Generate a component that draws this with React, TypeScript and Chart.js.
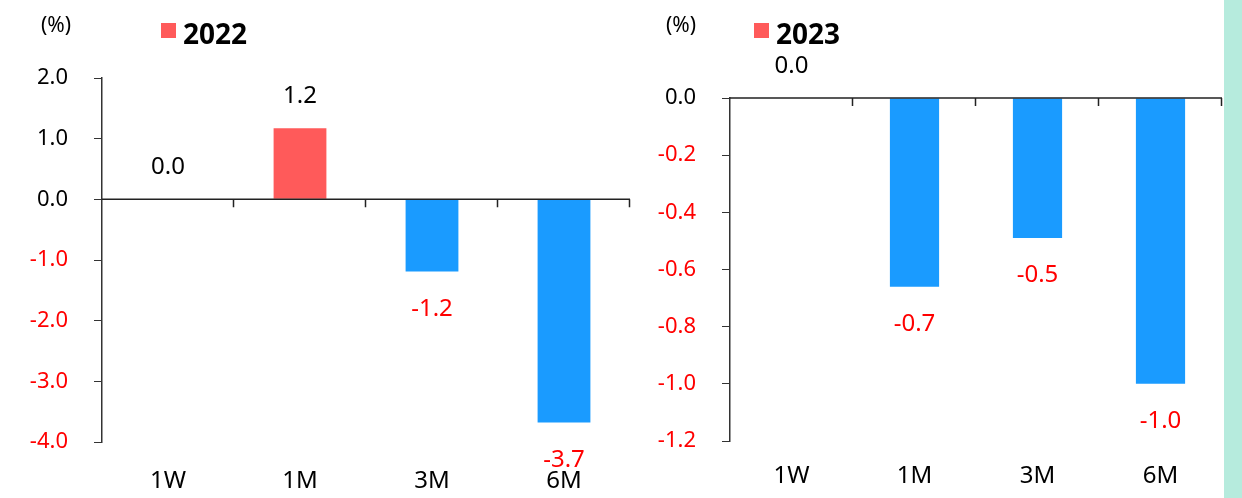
import React, { useEffect, useRef } from "react";
import { Chart, registerables } from "chart.js";

Chart.register(...registerables);

const categories = ["1W", "1M", "3M", "6M"];
const values2022 = [0.0, 1.17, -1.19, -3.68];
const values2023 = [0.0, -0.66, -0.49, -1.0];
const legend2022 = "2022";
const legend2023 = "2023";
const unitLabel = "(%)";

const RED_BAR = "#FF5A5A";
const BLUE_BAR = "#1A9BFF";
const RED_TEXT = "#FF0000";
const FONT = "'Noto Sans', 'DejaVu Sans', sans-serif";

type PanelProps = {
  values: number[];
  legend: string;
  yMin: number;
  yMax: number;
  step: number;
  width: number;
  height: number;
  left: number;
  pad: { left: number; right: number; top: number; bottom: number };
  xPadding: number;
  unitX: number;
  legendX: number;
};

function Panel(p: PanelProps) {
  const ref = useRef<HTMLCanvasElement | null>(null);
  useEffect(() => {
    if (!ref.current) return;
    const overlay = {
      id: "overlay",
      afterDatasetsDraw(chart: any) {
        const ctx = chart.ctx;
        const area = chart.chartArea;
        const yScale = chart.scales.y;
        const y0 = yScale.getPixelForValue(0);
        ctx.save();
        // zero axis line with category ticks
        ctx.strokeStyle = "#222";
        ctx.lineWidth = 1.5;
        ctx.beginPath();
        ctx.moveTo(area.left, y0);
        ctx.lineTo(area.right, y0);
        const n = categories.length;
        const w = (area.right - area.left) / n;
        for (let i = 1; i <= n; i++) {
          const x = Math.round(area.left + w * i) - 0.5;
          ctx.moveTo(x, y0);
          ctx.lineTo(x, y0 + 8);
        }
        ctx.stroke();
        // data labels
        const meta = chart.getDatasetMeta(0);
        ctx.font = `24px ${FONT}`;
        ctx.textAlign = "center";
        ctx.textBaseline = "middle";
        meta.data.forEach((bar: any, i: number) => {
          const v = p.values[i];
          if (v < 0) {
            ctx.fillStyle = RED_TEXT;
            ctx.fillText(v.toFixed(1), bar.x, bar.y + 37.5);
          } else {
            ctx.fillStyle = "#000";
            ctx.fillText(v.toFixed(1), bar.x, bar.y - 32);
          }
        });
        // unit
        ctx.fillStyle = "#000";
        ctx.font = `21px ${FONT}`;
        ctx.textAlign = "center";
        ctx.fillText(unitLabel, p.unitX, 26);
        // legend
        ctx.fillStyle = RED_BAR;
        ctx.fillRect(p.legendX, 23, 15, 15);
        ctx.fillStyle = "#000";
        ctx.font = `bold 28px ${FONT}`;
        ctx.textAlign = "left";
        ctx.fillText(p.legend, p.legendX + 22, 36);
        ctx.restore();
      },
    };
    const chart = new Chart(ref.current, {
      type: "bar",
      data: {
        labels: categories,
        datasets: [
          {
            data: p.values,
            backgroundColor: p.values.map((v) => (v >= 0 ? RED_BAR : BLUE_BAR)),
            borderWidth: 0,
            barPercentage: 0.4,
            categoryPercentage: 1,
          },
        ],
      },
      options: {
        responsive: false,
        animation: false,
        devicePixelRatio: 1,
        layout: { padding: { left: 0, right: p.pad.right, top: p.pad.top, bottom: 0 } },
        plugins: { legend: { display: false }, tooltip: { enabled: false } },
        scales: {
          x: {
            grid: { display: false, drawTicks: false },
            border: { display: false },
            ticks: { color: "#000", font: { size: 24, family: FONT }, padding: p.xPadding },
            afterFit: (s: any) => {
              s.height = p.pad.bottom;
            },
          },
          y: {
            min: p.yMin,
            max: p.yMax,
            grid: { drawOnChartArea: false, drawTicks: true, tickLength: 8, color: "#333" },
            border: { display: true, color: "#333", width: 1.5 },
            ticks: {
              stepSize: p.step,
              padding: 26,
              font: { size: 22, family: FONT },
              color: (c: any) => (c.tick && c.tick.value < -1e-9 ? RED_TEXT : "#000"),
              callback: (v: any) => Number(v).toFixed(1),
            },
            afterFit: (s: any) => {
              s.width = p.pad.left;
            },
          },
        },
      },
      plugins: [overlay],
    } as any);
    return () => chart.destroy();
  }, []);
  return (
    <canvas
      ref={ref}
      width={p.width}
      height={p.height}
      style={{ position: "absolute", left: p.left, top: 0, width: p.width, height: p.height }}
    />
  );
}

export default function App() {
  return (
    <div style={{ position: "absolute", left: 0, top: 0, width: 1242, height: 498, background: "#fff", overflow: "hidden" }}>
      <Panel
        values={values2022}
        legend={legend2022}
        yMin={-4}
        yMax={2}
        step={1}
        width={640}
        height={498}
        left={0}
        pad={{ left: 102, right: 10, top: 78, bottom: 56 }}
        xPadding={25}
        unitX={56}
        legendX={161}
      />
      <Panel
        values={values2023}
        legend={legend2023}
        yMin={-1.2}
        yMax={0}
        step={0.2}
        width={584}
        height={498}
        left={640}
        pad={{ left: 90, right: 2, top: 98, bottom: 57 }}
        xPadding={21}
        unitX={41}
        legendX={114}
      />
      <div style={{ position: "absolute", left: 1224, top: 0, width: 18, height: 498, background: "#B6EBDD" }} />
    </div>
  );
}
